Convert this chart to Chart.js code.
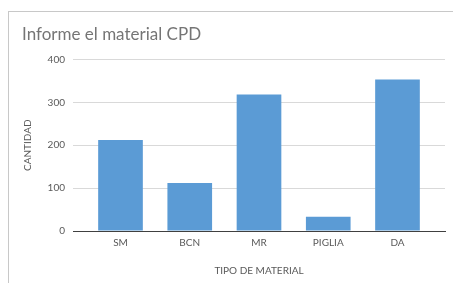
<!DOCTYPE html>
<html>
<head>
<meta charset="utf-8">
<script src="https://cdn.jsdelivr.net/npm/chart.js@4/dist/chart.umd.min.js"></script>
<style>
    html, body { margin: 0; padding: 0; background: #fff; }
    #frame {
        position: absolute;
        left: 8px;
        top: 11px;
        width: 445px;
        height: 272px;
        border-left: 1px solid #c8c8c8;
        border-top: 1px solid #c8c8c8;
        box-sizing: border-box;
    }
    #chart { display: block; }
</style>
</head>
<body>
<div id="frame"><canvas id="chart" width="444" height="271"></canvas></div>
<script>
const categories = ['SM', 'BCN', 'MR', 'PIGLIA', 'DA'];
const cantidad = [212, 112, 318, 33, 353];
const yTicks = [0, 100, 200, 300, 400];

const textColor = '#595959';
const font = { family: 'Lato', size: 10 };

// bars on a linear x axis so the plot area can run a bit wider than the categories
const points = cantidad.map((v, i) => ({ x: i, y: v }));

new Chart(document.getElementById('chart'), {
    type: 'bar',
    data: {
        datasets: [{
            label: 'CANTIDAD',
            data: points,
            backgroundColor: '#5b9bd5',
            borderWidth: 0,
            categoryPercentage: 1,
            barPercentage: 0.645,
        }],
    },
    options: {
        responsive: false,
        animation: false,
        layout: { padding: { left: 13, right: 8, top: 0, bottom: 0 } },
        plugins: {
            legend: { display: false },
            tooltip: { enabled: false },
            title: {
                display: true,
                text: 'Informe el material CPD',
                align: 'start',
                color: '#757575',
                font: { family: 'Lato', size: 17, weight: 'normal' },
                padding: { top: 12, bottom: 15 },
            },
        },
        scales: {
            x: {
                type: 'linear',
                offset: false,
                min: -0.686,
                max: 4.686,
                afterFit: s => { s.height = 52; },
                afterBuildTicks: s => { s.ticks = categories.map((c, i) => ({ value: i })); },
                ticks: {
                    autoSkip: false,
                    maxRotation: 0,
                    color: textColor,
                    font,
                    padding: 6,
                    callback: v => categories[v],
                },
                grid: { display: false, drawTicks: false, offset: false },
                border: { display: true, color: '#404040', width: 1 },
                title: {
                    display: true,
                    text: 'TIPO DE MATERIAL',
                    color: textColor,
                    font,
                    padding: { top: 14, bottom: 6 },
                },
            },
            y: {
                min: yTicks[0],
                max: yTicks[yTicks.length - 1],
                afterFit: s => { s.width = 51; },
                afterBuildTicks: s => { s.ticks = yTicks.map(v => ({ value: v })); },
                ticks: { color: textColor, font, padding: 8 },
                grid: { color: '#d9d9d9', drawTicks: false },
                border: { display: false },
                title: {
                    display: true,
                    text: 'CANTIDAD',
                    color: textColor,
                    font,
                    padding: { top: 0, bottom: 0 },
                },
            },
        },
    },
});
</script>
</body>
</html>
